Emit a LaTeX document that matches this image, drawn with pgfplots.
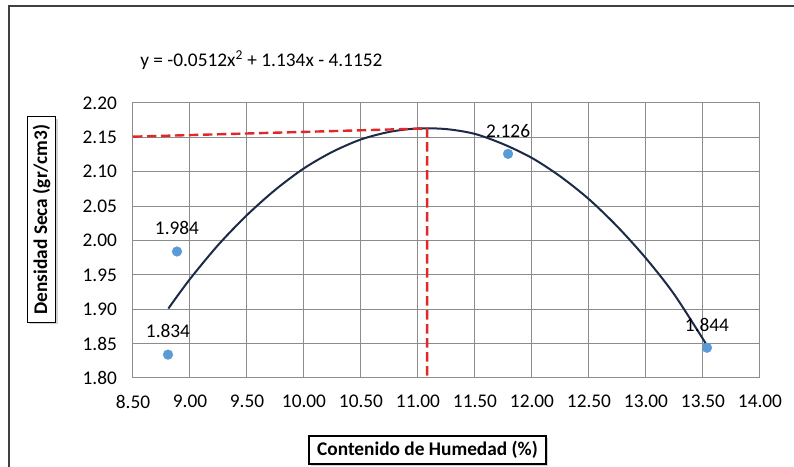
\documentclass[border=0pt]{standalone}
\usepackage{pgfplots}
\pgfplotsset{compat=1.18}
\usepackage{fontspec}
\setmainfont{Carlito}
\usetikzlibrary{shadows}

\definecolor{ptblue}{HTML}{5B9BD5}
\definecolor{trend}{HTML}{1C2A48}
\definecolor{refred}{HTML}{E02828}
\definecolor{gridgray}{HTML}{8C8C8C}

\newcommand\chartfont{\fontsize{14.5}{17}\selectfont}

\begin{document}
\begin{tikzpicture}
\chartfont
\useasboundingbox (0,0) rectangle (595.5pt,350.25pt);

% chart frame (only top and left edges are visible)
\draw[line width=1.5pt, black!75] (6.4pt,0) -- (6.4pt,346.1pt) -- (595.5pt,346.1pt);

\begin{axis}[
  at={(99.75pt,66.75pt)}, anchor=south west,
  scale only axis,
  width=470.25pt, height=206.25pt,
  xmin=8.5, xmax=14, ymin=1.8, ymax=2.2,
  xtick={8.5,9,...,14},
  ytick={1.8,1.85,...,2.2001},
  major tick length=0pt,
  grid=major,
  grid style={gridgray, line width=0.75pt},
  axis line style={gridgray, line width=0.75pt},
  /pgf/number format/assume math mode=true,
  xticklabel style={/pgf/number format/.cd, fixed, fixed zerofill, precision=2, /tikz/.cd, yshift=-7.6pt},
  yticklabel style={/pgf/number format/.cd, fixed, fixed zerofill, precision=2, /tikz/.cd, xshift=-7pt},
  ticklabel style={font=\chartfont},
  clip=false,
]
% trendline
\addplot[trend, line width=1.5pt, smooth] coordinates {
  (8.81,1.901) (9.00,1.944) (9.25,1.994) (9.50,2.037) (9.75,2.074)
  (10.00,2.105) (10.25,2.129) (10.50,2.147) (10.75,2.158) (11.00,2.163)
  (11.25,2.162) (11.50,2.155) (11.75,2.140) (12.00,2.120) (12.25,2.093)
  (12.50,2.060) (12.75,2.020) (13.00,1.974) (13.25,1.921) (13.54,1.846)
};
% optimum reference lines
\addplot[refred, line width=1.8pt, dash pattern=on 7pt off 3.5pt] coordinates {
  (8.5,2.151) (11.08,2.163) (11.08,1.80)
};
% measured points
\addplot[only marks, mark=*, mark size=3.6pt, mark options={draw=ptblue, fill=ptblue},
  nodes near coords, point meta=explicit symbolic,
  every node near coord/.append style={font=\chartfont, anchor=south, inner sep=0pt, yshift=12.2pt, text=black}]
  coordinates {
  (8.807,1.834) [1.834]
  (8.886,1.984) [1.984]
  (11.79,2.126) [2.126]
  (13.535,1.844) [1.844]
};
\end{axis}

% trendline equation
\node[anchor=west, inner sep=0pt] at (105pt,305.25pt) {y = -0.0512x\textsuperscript{2} + 1.134x - 4.1152};

% axis titles in framed boxes
\node[draw=black, line width=1.1pt, fill=white, rotate=90, inner xsep=6pt, inner ysep=4pt,
  drop shadow={shadow xshift=1.5pt, shadow yshift=-1.5pt, opacity=0.35},
  font=\chartfont\bfseries] at (31.1pt,185.6pt) {Densidad Seca (gr/cm3)};
\node[draw=black, line width=1.1pt, fill=white, inner xsep=6pt, inner ysep=4pt,
  drop shadow={shadow xshift=1.5pt, shadow yshift=-1.5pt, opacity=0.35},
  font=\chartfont\bfseries] at (320.6pt,12.75pt) {Contenido de Humedad (\%)};
\end{tikzpicture}
\end{document}
